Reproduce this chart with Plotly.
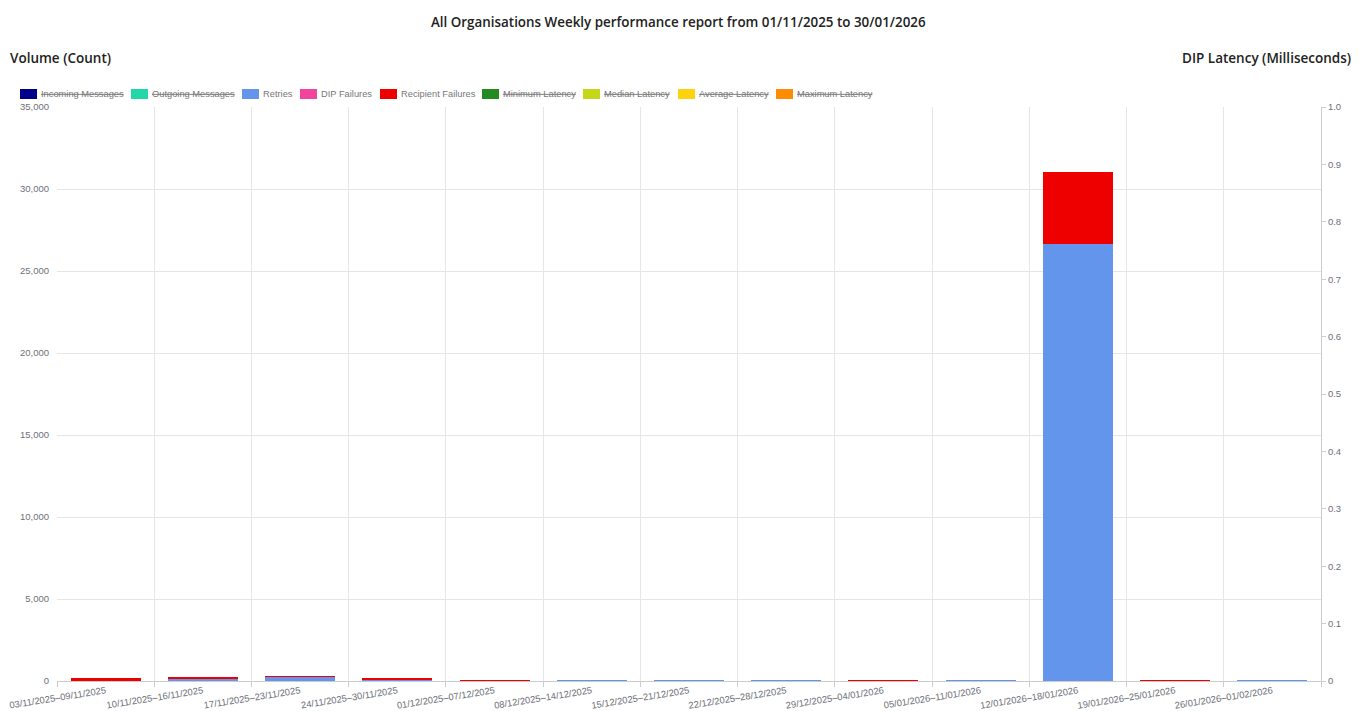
import plotly.graph_objects as go

# ---------------- data ----------------
categories = [
    "03/11/2025–09/11/2025", "10/11/2025–16/11/2025", "17/11/2025–23/11/2025",
    "24/11/2025–30/11/2025", "01/12/2025–07/12/2025", "08/12/2025–14/12/2025",
    "15/12/2025–21/12/2025", "22/12/2025–28/12/2025", "29/12/2025–04/01/2026",
    "05/01/2026–11/01/2026", "12/01/2026–18/01/2026", "19/01/2026–25/01/2026",
    "26/01/2026–01/02/2026",
]
retries = [10, 150, 290, 100, 0, 2, 30, 30, 0, 2, 26650, 0, 30]
dip_failures = [0, 20, 0, 5, 0, 0, 0, 0, 0, 0, 0, 0, 0]
recipient_failures = [150, 80, 10, 55, 2, 0, 0, 0, 15, 0, 4390, 40, 0]

legend_names = ["Incoming Messages", "Outgoing Messages", "Retries", "DIP Failures",
                "Recipient Failures", "Minimum Latency", "Median Latency",
                "Average Latency", "Maximum Latency"]
legend_colors = ["#00008B", "#22D8A8", "#6495ED", "#F2449C", "#EE0000",
                 "#228B22", "#C5D817", "#FFD20F", "#FF8C00"]
legend_hidden = [True, True, False, False, False, True, True, True, True]

y_left_ticks = [0, 5000, 10000, 15000, 20000, 25000, 30000, 35000]
y_right_ticks = [0, 0.1, 0.2, 0.3, 0.4, 0.5, 0.6, 0.7, 0.8, 0.9, 1.0]
y_right_labels = ["0", "0.1", "0.2", "0.3", "0.4", "0.5", "0.6", "0.7", "0.8", "0.9", "1.0"]

title_text = "All Organisations Weekly performance report from 01/11/2025 to 30/01/2026"
left_title = "Volume (Count)"
right_title = "DIP Latency (Milliseconds)"

# ---------------- layout constants (page pixels) ----------------
PAGE_W, PAGE_H = 1363, 711
OFF = 8                      # default body margin of the html page
PLOT_L, PLOT_R, PLOT_T, PLOT_B = 57, 1321, 107, 681
PW, PH = PLOT_R - PLOT_L, PLOT_B - PLOT_T
FIG_W, FIG_H = PAGE_W - OFF, PAGE_H - OFF


def px(x):
    return (x - PLOT_L) / PW


def py(y):
    return (PLOT_B - y) / PH


FONT = "Liberation Sans, Arial, sans-serif"
TITLE_FONT = "Open Sans, Noto Sans, sans-serif"
GREY = "#6E7079"

fig = go.Figure()
series = [("Retries", retries, "#6495ED"),
          ("DIP Failures", dip_failures, "#F2449C"),
          ("Recipient Failures", recipient_failures, "#EE0000")]
for name, vals, col in series:
    fig.add_trace(go.Bar(x=categories, y=vals, name=name, marker_color=col,
                         marker_line_width=0, showlegend=False))

# hidden latency series axis holder
fig.add_trace(go.Scatter(x=categories, y=[None] * len(categories), yaxis="y2",
                         mode="lines", showlegend=False, hoverinfo="skip"))

annotations = [
    dict(text=title_text, x=px(678), y=py(22), xref="paper", yref="paper",
         showarrow=False, xanchor="center", yanchor="middle",
         font=dict(family=TITLE_FONT, size=13.4, color="#222", weight=600)),
    dict(text=left_title, x=px(OFF), y=py(58), xref="paper", yref="paper",
         showarrow=False, xanchor="left", yanchor="middle",
         font=dict(family=TITLE_FONT, size=13.5, color="#222", weight=600)),
    dict(text=right_title, x=px(1353), y=py(58), xref="paper", yref="paper",
         showarrow=False, xanchor="right", yanchor="middle",
         font=dict(family=TITLE_FONT, size=13.5, color="#222", weight=600)),
]
shapes = []
swatch_x = [20, 131, 242, 300, 380, 482, 583, 678, 776]
for sx, name, col, hid in zip(swatch_x, legend_names, legend_colors, legend_hidden):
    shapes.append(dict(type="rect", xref="paper", yref="paper",
                       x0=px(sx), x1=px(sx + 17), y0=py(99), y1=py(89),
                       fillcolor=col, line=dict(width=0)))
    txt = f"<s>{name}</s>" if hid else name
    annotations.append(dict(text=txt, x=px(sx + 19), y=py(94), xref="paper", yref="paper",
                            showarrow=False, xanchor="left", yanchor="middle",
                            font=dict(family=FONT, size=9.3, color="#777")))

fig.update_layout(
    width=FIG_W, height=FIG_H,
    margin=dict(l=PLOT_L - OFF, r=FIG_W - (PLOT_R - OFF), t=PLOT_T - OFF,
                b=FIG_H - (PLOT_B - OFF), autoexpand=False),
    paper_bgcolor="white", plot_bgcolor="white",
    barmode="stack", bargap=0.28,
    showlegend=False,
    annotations=annotations, shapes=shapes,
    xaxis=dict(type="category", tickson="boundaries", showgrid=True, gridcolor="#E6E6E6",
               ticks="outside", ticklen=5, tickcolor="#CCCCCC", showline=True,
               linecolor="#CCCCCC", tickangle=-9, automargin=False,
               tickfont=dict(family=FONT, size=9.4, color=GREY)),
    yaxis=dict(range=[0, 35000], tickvals=y_left_ticks, tickformat=",", showgrid=True,
               gridcolor="#E6E6E6", zeroline=False, showline=False, automargin=False,
               tickfont=dict(family=FONT, size=9.5, color=GREY), ticklabelstandoff=7),
    yaxis2=dict(overlaying="y", side="right", range=[0, 1], tickvals=y_right_ticks,
                ticktext=y_right_labels, showgrid=False, zeroline=False, showline=True,
                linecolor="#CCCCCC", ticks="outside", ticklen=4, tickcolor="#CCCCCC",
                automargin=False, tickfont=dict(family=FONT, size=9.5, color=GREY)),
)

fig.write_html("out.html")
